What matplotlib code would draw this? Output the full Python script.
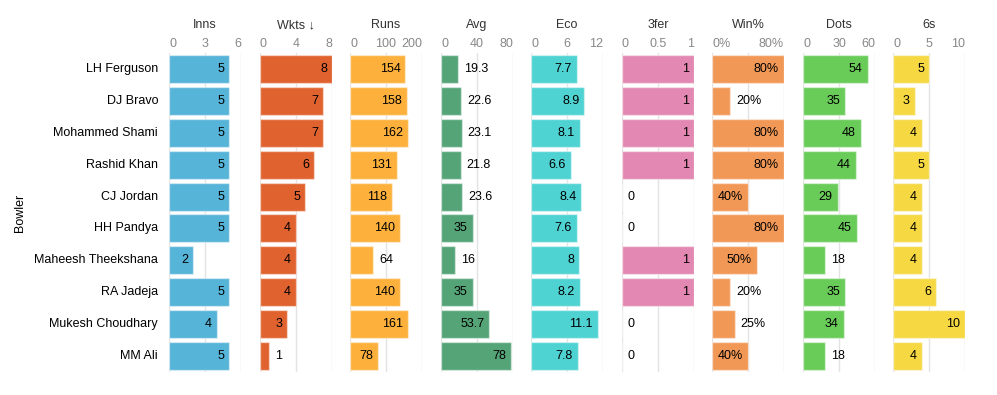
import matplotlib
matplotlib.use("Agg")
import matplotlib.pyplot as plt
from matplotlib import transforms

plt.rcParams['font.family'] = ['Liberation Sans', 'DejaVu Sans']

bowlers = ["LH Ferguson", "DJ Bravo", "Mohammed Shami", "Rashid Khan", "CJ Jordan",
           "HH Pandya", "Maheesh Theekshana", "RA Jadeja", "Mukesh Choudhary", "MM Ali"]
inns = [5, 5, 5, 5, 5, 5, 2, 5, 4, 5]
wkts = [8, 7, 7, 6, 5, 4, 4, 4, 3, 1]
runs = [154, 158, 162, 131, 118, 140, 64, 140, 161, 78]
avg = [19.3, 22.6, 23.1, 21.8, 23.6, 35, 16, 35, 53.7, 78]
eco = [7.7, 8.9, 8.1, 6.6, 8.4, 7.6, 8, 8.2, 11.1, 7.8]
three_fer = [1, 1, 1, 1, 0, 0, 1, 1, 0, 0]
win_pct = [0.8, 0.2, 0.8, 0.8, 0.4, 0.8, 0.5, 0.2, 0.25, 0.4]
dots = [54, 35, 48, 44, 29, 45, 18, 35, 34, 18]
sixes = [5, 3, 4, 5, 4, 4, 4, 6, 10, 4]

titles = ["Inns", "Wkts \u2193", "Runs", "Avg", "Eco", "3fer", "Win%", "Dots", "6s"]
series = [inns, wkts, runs, avg, eco, three_fer, win_pct, dots, sixes]
domains = [6, 8, 200, 80, 12, 1, 0.8, 60, 10]
grid_ticks = [[0, 3, 6], [0, 4, 8], [0, 100, 200], [0, 40, 80], [0, 6, 12],
              [0, 0.5, 1], [0, 0.4, 0.8], [0, 30, 60], [0, 5, 10]]
tick_labels = [["0", "3", "6"], ["0", "4", "8"], ["0", "100", "200"], ["0", "40", "80"],
               ["0", "6", "12"], ["0", "0.5", "1"], ["0%", "", "80%"], ["0", "30", "60"],
               ["0", "5", "10"]]
colors = ["#56b4d9", "#e0622f", "#fdb13c", "#55a478", "#4fd2d2", "#e288b2",
          "#f29856", "#6acc58", "#f5d842"]


def fmt(v, i):
    if i == 6:
        return f"{v*100:.0f}%"
    if float(v).is_integer():
        return str(int(v))
    return f"{v:g}"


W, H = 997, 395
fig = plt.figure(figsize=(W / 100, H / 100), dpi=100)
renderer = fig.canvas.get_renderer()

panel_x0 = [169, 260, 350, 441, 531, 622, 712, 803, 893]
panel_w = 72
top_px, bot_px = 53, 372
FS = 9

for i, (vals, title) in enumerate(zip(series, titles)):
    ax = fig.add_axes([panel_x0[i] / W, 1 - bot_px / H, panel_w / W, (bot_px - top_px) / H])
    ax.set_xlim(0, domains[i])
    ax.set_ylim(len(bowlers) - 0.5, -0.5)
    for s in ax.spines.values():
        s.set_visible(False)
    ax.set_xticks([])
    ax.set_yticks([])
    ax.patch.set_alpha(0)
    for t in grid_ticks[i]:
        ax.axvline(t, color="#e3e3e3", lw=1, zorder=0)
    ypos = list(range(len(bowlers)))
    ax.barh(ypos, vals, height=0.88, color=colors[i], edgecolor=(1, 1, 1, 0.45),
            linewidth=1, zorder=2)

    # header title
    ax.text(0.5, 1 - 25 / H, title, transform=transforms.blended_transform_factory(ax.transAxes, fig.transFigure),
            ha="center", va="center", fontsize=FS, color="#333333")
    # tick labels (flush)
    btrans = transforms.blended_transform_factory(ax.transData, fig.transFigure)
    n = len(grid_ticks[i])
    for k, (t, lab) in enumerate(zip(grid_ticks[i], tick_labels[i])):
        ha = "left" if k == 0 else ("right" if k == n - 1 else "center")
        ax.text(t, 1 - 44 / H, lab, transform=btrans, ha=ha, va="center",
                fontsize=FS, color="#888888")

    # value labels
    px_per_unit = panel_w / domains[i]
    for y, v in zip(ypos, vals):
        lab = fmt(v, i)
        txt = ax.text(v, y, lab, ha="right", va="center", fontsize=FS, color="black", zorder=3)
        bb = txt.get_window_extent(renderer=renderer)
        bar_px = v * px_per_unit
        if bb.width + 10 <= bar_px:
            txt.set_position((v - 5 / px_per_unit, y))
        else:
            txt.set_position((v + 6 / px_per_unit, y))
            txt.set_ha("left")

    if i == 0:
        ltrans = transforms.blended_transform_factory(fig.transFigure, ax.transData)
        for y, name in zip(ypos, bowlers):
            ax.text(158 / W, y, name, transform=ltrans, ha="right", va="center",
                    fontsize=FS, color="black")

fig.text(20 / W, 1 - 213 / H, "Bowler", rotation=90, ha="center", va="center",
         fontsize=FS, color="black")

fig.savefig("out.png", dpi=100, facecolor="white")
